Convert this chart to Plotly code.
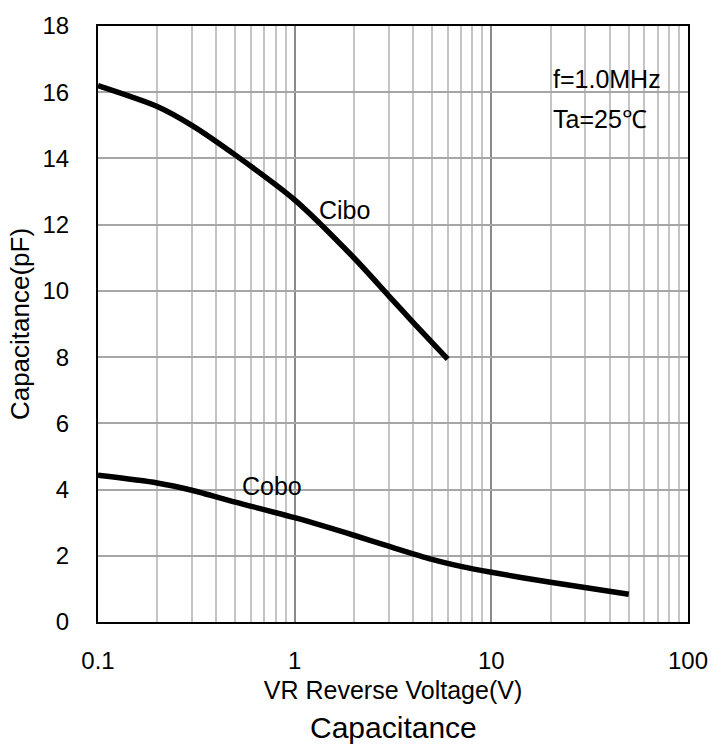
import plotly.graph_objects as go

cibo_v = [0.1, 0.2, 0.3, 0.5, 1.0, 2.0, 3.0, 4.0, 6.0]
cibo_c = [16.2, 15.57, 15.0, 14.1, 12.75, 11.0, 9.86, 9.05, 7.94]
cobo_v = [0.1, 0.2, 0.3, 0.5, 1.0, 2.0, 3.0, 5.0, 7.0, 10.0, 20.0, 50.0]
cobo_c = [4.43, 4.2, 3.98, 3.62, 3.15, 2.62, 2.29, 1.89, 1.68, 1.5, 1.2, 0.84]
x_ticks = [0.1, 1, 10, 100]
x_tick_text = ["0.1", "1", "10", "100"]
y_ticks = [0, 2, 4, 6, 8, 10, 12, 14, 16, 18]

FONT = "Liberation Sans, Arial, sans-serif"

fig = go.Figure()
for xs, ys in ((cibo_v, cibo_c), (cobo_v, cobo_c)):
    fig.add_trace(go.Scatter(x=xs, y=ys, mode="lines",
                             line=dict(color="black", width=5.5, shape="spline", smoothing=0.7),
                             showlegend=False, hoverinfo="skip"))

fig.update_layout(
    width=728, height=753,
    margin=dict(l=98, r=40, t=23, b=131),
    plot_bgcolor="white", paper_bgcolor="white",
    font=dict(family=FONT, color="black", size=24),
    xaxis=dict(type="log", range=[-1, 2], tickvals=x_ticks, ticktext=x_tick_text,
               showgrid=True, gridcolor="#8a8a8a", gridwidth=1.5,
               minor=dict(showgrid=True, gridcolor="#c4c4c4", gridwidth=1.5, dtick="D1"),
               showline=True, linecolor="black", linewidth=2, mirror=True,
               ticks="", ticklabelstandoff=16, zeroline=False,
               tickfont=dict(size=24),
               title=dict(text="VR Reverse Voltage(V)", font=dict(size=25), standoff=9)),
    yaxis=dict(range=[0, 18], tickvals=y_ticks,
               showgrid=True, gridcolor="#a6a6a6", gridwidth=1.5,
               showline=True, linecolor="black", linewidth=2, mirror=True,
               ticks="", ticklabelstandoff=22, zeroline=False,
               tickfont=dict(size=24),
               title=dict(text="Capacitance(pF)", font=dict(size=26), standoff=5)),
    annotations=[
        dict(text="Cibo", x=0.113, y=12.44, xref="x", yref="y", showarrow=False,
             font=dict(size=25), xanchor="left", yanchor="middle"),
        dict(text="Cobo", x=-0.278, y=4.1, xref="x", yref="y", showarrow=False,
             font=dict(size=25), xanchor="left", yanchor="middle"),
        dict(text="f=1.0MHz", x=1.303, y=16.4, xref="x", yref="y", showarrow=False,
             font=dict(size=25), xanchor="left", yanchor="middle"),
        dict(text="Ta=25℃", x=1.303, y=15.2, xref="x", yref="y", showarrow=False,
             font=dict(size=25), xanchor="left", yanchor="middle"),
        dict(text="Capacitance", x=0.5, y=-0.177, xref="paper", yref="paper",
             showarrow=False, font=dict(size=30), xanchor="center", yanchor="middle"),
    ],
)

fig.write_html("out.html")
